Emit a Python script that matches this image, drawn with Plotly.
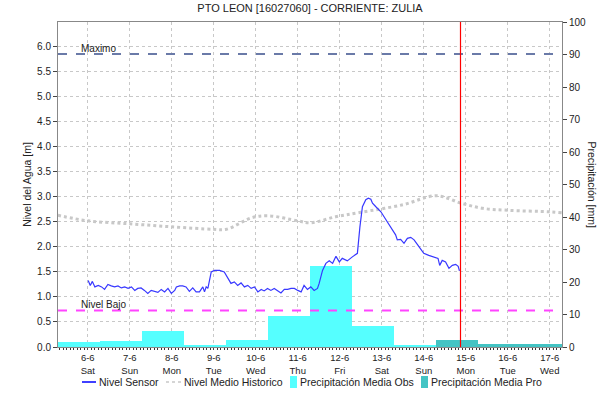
import pandas as pd
import plotly.graph_objects as go

BASE = pd.Timestamp("2020-06-06 00:00")

# Nivel Sensor: offsets in days from 6-6 00:00, level in m
sensor_day = [0.01, 0.06, 0.11, 0.17, 0.25, 0.33, 0.40, 0.48, 0.56, 0.64, 0.72, 0.80, 0.88, 0.96,
              1.04, 1.12, 1.19, 1.27, 1.35, 1.43, 1.51, 1.59, 1.67, 1.75, 1.83, 1.91, 1.99,
              2.07, 2.11, 2.19, 2.26, 2.34, 2.42, 2.50, 2.58, 2.66, 2.74, 2.78, 2.82, 2.86, 2.94,
              3.02, 3.14, 3.25, 3.33, 3.41, 3.49, 3.57, 3.65, 3.73, 3.81, 3.89, 3.97,
              4.05, 4.13, 4.20, 4.28, 4.36, 4.44, 4.52, 4.60, 4.68, 4.76, 4.84, 4.92,
              5.00, 5.08, 5.15, 5.23, 5.31, 5.39, 5.47, 5.51, 5.59, 5.67, 5.75, 5.83, 5.91, 5.99,
              6.06, 6.18, 6.30, 6.42, 6.48, 6.54, 6.62, 6.68, 6.74, 6.78, 6.86, 6.98,
              7.10, 7.21, 7.33, 7.37, 7.45, 7.53, 7.61, 7.69, 7.77, 7.89,
              8.00, 8.12, 8.24, 8.34, 8.38, 8.44, 8.52, 8.60, 8.68, 8.76, 8.82, 8.85]
sensor_lvl = [1.33, 1.23, 1.31, 1.20, 1.23, 1.20, 1.15, 1.25, 1.22, 1.20, 1.22, 1.18, 1.20, 1.17,
              1.20, 1.13, 1.17, 1.18, 1.13, 1.07, 1.13, 1.11, 1.09, 1.15, 1.10, 1.17, 1.07,
              1.13, 1.20, 1.22, 1.22, 1.20, 1.11, 1.18, 1.10, 1.10, 1.20, 1.10, 1.20, 1.17, 1.50,
              1.53, 1.53, 1.50, 1.37, 1.27, 1.30, 1.23, 1.28, 1.20, 1.23, 1.17, 1.20,
              1.10, 1.15, 1.12, 1.17, 1.13, 1.17, 1.13, 1.08, 1.15, 1.15, 1.17, 1.17,
              1.13, 1.10, 1.23, 1.15, 1.20, 1.13, 1.17, 1.27, 1.53, 1.67, 1.72, 1.67, 1.81, 1.70,
              1.77, 1.72, 1.80, 1.87, 2.40, 2.80, 2.94, 2.97, 2.95, 2.87, 2.80, 2.70,
              2.54, 2.40, 2.24, 2.14, 2.15, 2.07, 2.17, 2.19, 2.14, 2.00,
              1.87, 1.83, 1.80, 1.77, 1.63, 1.73, 1.70, 1.57, 1.63, 1.65, 1.61, 1.52]

# Nivel Medio Historico
hist_day = [-0.71, 0, 1, 2, 3, 3.3, 3.9, 4.3, 5.0, 5.3, 5.9, 6.5, 7.5, 8.3, 8.9, 9.4, 10, 11, 11.29]
hist_lvl = [2.63, 2.52, 2.46, 2.40, 2.35, 2.35, 2.58, 2.62, 2.52, 2.48, 2.60, 2.69, 2.84, 3.02,
            2.87, 2.77, 2.73, 2.70, 2.68]

# Precipitation (mm), daily 07:00 -> 07:00 periods
obs_start = ["2020-06-05 07:00", "2020-06-06 07:00", "2020-06-07 07:00", "2020-06-08 07:00",
             "2020-06-09 07:00", "2020-06-10 07:00", "2020-06-11 07:00", "2020-06-12 07:00",
             "2020-06-13 07:00"]
obs_mm = [1.5, 1.8, 4.9, 0.5, 2.1, 9.5, 24.9, 6.4, 0.5]
pro_start = ["2020-06-14 07:00", "2020-06-15 07:00", "2020-06-16 07:00"]
pro_mm = [2.2, 0.8, 0.8]

nivel_maximo = 5.85
nivel_bajo = 0.73
now_time = "2020-06-14 21:00"

title = "PTO LEON [16027060] - CORRIENTE: ZULIA"
legend_names = ["Nivel Sensor", "Nivel Medio Historico", "Precipitación Media Obs",
                "Precipitación Media Pro"]

C_SENSOR, C_HIST, C_OBS, C_PRO = "#3838ff", "#c8c8c8", "#55ffff", "#44c4c4"

DAY_MS = 86400000
to_dt = lambda days: [BASE + pd.Timedelta(days=d) for d in days]
centers = lambda starts: [pd.Timestamp(s) + pd.Timedelta(hours=12) for s in starts]

FONT = "Liberation Sans, Arial, sans-serif"
fig = go.Figure()

fig.add_trace(go.Bar(x=centers(obs_start), y=obs_mm, width=[DAY_MS] * len(obs_mm),
                     name=legend_names[2], marker=dict(color=C_OBS, line=dict(width=0)),
                     yaxis="y", showlegend=False))
fig.add_trace(go.Bar(x=centers(pro_start), y=pro_mm, width=[DAY_MS] * len(pro_mm),
                     name=legend_names[3], marker=dict(color=C_PRO, line=dict(width=0)),
                     yaxis="y", showlegend=False))
fig.add_trace(go.Scatter(x=to_dt(hist_day), y=hist_lvl, mode="lines", name=legend_names[1],
                         line=dict(color=C_HIST, width=3, dash="dot", shape="spline"),
                         yaxis="y2", showlegend=False))
fig.add_trace(go.Scatter(x=to_dt(sensor_day), y=sensor_lvl, mode="lines", name=legend_names[0],
                         line=dict(color=C_SENSOR, width=1.2), yaxis="y2", showlegend=False))

fig.add_shape(type="line", xref="paper", x0=0, x1=1, yref="y2", y0=nivel_maximo, y1=nivel_maximo,
              line=dict(color="#6a7aa8", width=2, dash="dash"), layer="above")
fig.add_shape(type="line", xref="paper", x0=0, x1=1, yref="y2", y0=nivel_bajo, y1=nivel_bajo,
              line=dict(color="#ff44ff", width=2, dash="dash"), layer="above")
fig.add_shape(type="line", x0=now_time, x1=now_time, yref="paper", y0=0, y1=1,
              line=dict(color="#ff0000", width=1.2), layer="above")

fig.add_annotation(text="Maximo", xref="paper", x=0.042, yref="y2", y=nivel_maximo,
                   xanchor="left", yanchor="bottom", showarrow=False, yshift=-2,
                   font=dict(size=10, color="#222"))
fig.add_annotation(text="Nivel Bajo", xref="paper", x=0.042, yref="y2", y=nivel_bajo,
                   xanchor="left", yanchor="bottom", showarrow=False, yshift=-2,
                   font=dict(size=10, color="#222"))

# pixel-like paper coords (plot area: x 58..562, y 22..347)
PL, PW, PT, PH = 58, 504, 22, 325
px = lambda v: (v - PL) / PW
py = lambda v: (PT + PH - v) / PH

fig.add_annotation(text="Precipitación [mm]", xref="paper", x=px(592), yref="paper", y=0.5,
                   xanchor="center", yanchor="middle", textangle=90, showarrow=False,
                   font=dict(size=10.5, color="#222"))

LY = 382
fig.add_shape(type="line", xref="paper", yref="paper", x0=px(82), x1=px(96), y0=py(LY), y1=py(LY),
              line=dict(color="#0000ff", width=1.5))
fig.add_shape(type="line", xref="paper", yref="paper", x0=px(166), x1=px(181), y0=py(LY), y1=py(LY),
              line=dict(color=C_HIST, width=1.5, dash="3px,3px"))
fig.add_shape(type="rect", xref="paper", yref="paper", x0=px(290), x1=px(297), y0=py(LY + 6),
              y1=py(LY - 6), line=dict(width=0), fillcolor=C_OBS)
fig.add_shape(type="rect", xref="paper", yref="paper", x0=px(421), x1=px(428), y0=py(LY + 6),
              y1=py(LY - 6), line=dict(width=0), fillcolor=C_PRO)
for name, xpos in zip(legend_names, [98, 183, 299, 430]):
    fig.add_annotation(text=name, xref="paper", yref="paper", x=px(xpos), y=py(LY),
                       xanchor="left", yanchor="middle", showarrow=False, borderpad=0,
                       font=dict(size=10.5, color="#222"))

fig.update_layout(
    width=615, height=402,
    margin=dict(l=PL, r=615 - PL - PW, t=PT, b=402 - PT - PH, autoexpand=False),
    paper_bgcolor="white", plot_bgcolor="white",
    font=dict(family=FONT, size=10, color="#222"),
    title=dict(text=title, x=0.5, xref="paper", y=0.99, yanchor="top",
               font=dict(size=11, color="#222")),
    barmode="overlay", bargap=0,
    showlegend=False,
    xaxis=dict(type="date", range=["2020-06-05 07:00", "2020-06-17 07:00"],
               tickformat="%-d-%-m<br>%a", dtick=DAY_MS, tick0="2020-06-06",
               showgrid=True, gridcolor="#c8c8c8", griddash="dot", gridwidth=1,
               showline=True, linecolor="#888", mirror=True, ticks="outside", ticklen=2,
               tickcolor="#444", tickfont=dict(size=9.5),
               minor=dict(dtick=3600000 * 2, ticks="outside", ticklen=2, tickcolor="#333")),
    yaxis=dict(range=[0, 100], side="right", dtick=10, showgrid=False, ticks="outside",
               ticklen=4, showline=True, linecolor="#888", tickcolor="#444",
               tickfont=dict(size=10), zeroline=False),
    yaxis2=dict(range=[0, 6.49], side="left", overlaying="y", dtick=0.5, tickformat=".1f",
                showgrid=True, gridcolor="#c8c8c8", griddash="dot", gridwidth=1,
                ticks="outside", ticklen=4, showline=True, linecolor="#888", tickcolor="#444",
                tickfont=dict(size=10), zeroline=False,
                title=dict(text="Nivel del Agua [m]", font=dict(size=10.5), standoff=3)),
)

fig.write_html("out.html", config={"displayModeBar": False},
               post_script="document.body.style.margin='0';")
